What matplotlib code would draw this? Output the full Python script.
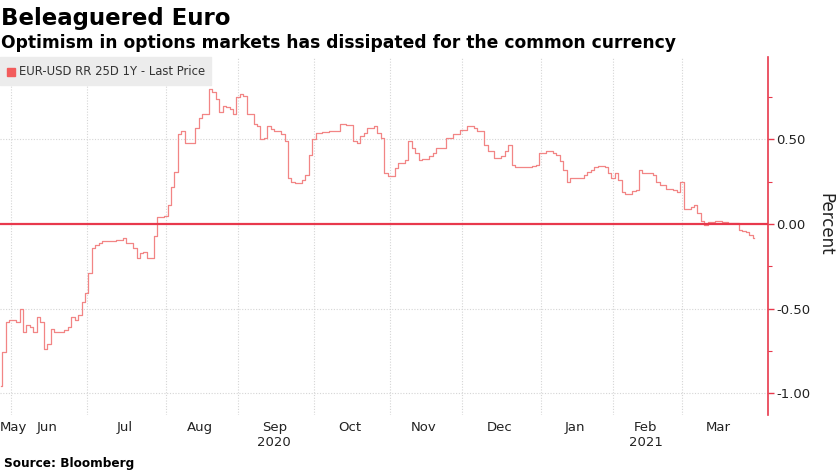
import numpy as np
import pandas as pd
import matplotlib
matplotlib.use('Agg')
import matplotlib.pyplot as plt
from matplotlib.patches import Rectangle

# EUR-USD 25 delta 1Y risk reversal, one value per trading day from 27 May 2020
start_date = '2020-05-27'
rr_values = [
    -0.96, -0.76, -0.58, -0.57, -0.57, -0.58, -0.50, -0.64, -0.60, -0.61,
    -0.64, -0.55, -0.58, -0.74, -0.71, -0.62, -0.64, -0.64, -0.64, -0.63,
    -0.61, -0.55, -0.57, -0.54, -0.46, -0.41, -0.29, -0.14, -0.125, -0.11,
    -0.10, -0.10, -0.10, -0.10, -0.095, -0.095, -0.08, -0.11, -0.11, -0.14,
    -0.20, -0.17, -0.165, -0.20, -0.20, -0.07, 0.04, 0.04, 0.05, 0.11,
    0.22, 0.31, 0.53, 0.55, 0.48, 0.48, 0.48, 0.57, 0.625, 0.65,
    0.65, 0.80, 0.78, 0.74, 0.66, 0.70, 0.69, 0.68, 0.65, 0.75,
    0.77, 0.76, 0.65, 0.65, 0.59, 0.58, 0.50, 0.51, 0.58, 0.56,
    0.55, 0.55, 0.53, 0.49, 0.27, 0.25, 0.24, 0.24, 0.26, 0.29,
    0.41, 0.50, 0.54, 0.54, 0.545, 0.545, 0.55, 0.55, 0.55, 0.59,
    0.59, 0.585, 0.585, 0.49, 0.48, 0.52, 0.54, 0.57, 0.57, 0.58,
    0.54, 0.51, 0.30, 0.285, 0.285, 0.33, 0.36, 0.36, 0.38, 0.49,
    0.45, 0.42, 0.38, 0.385, 0.385, 0.40, 0.42, 0.45, 0.45, 0.45,
    0.51, 0.51, 0.535, 0.535, 0.555, 0.555, 0.58, 0.58, 0.57, 0.55,
    0.55, 0.47, 0.43, 0.43, 0.39, 0.39, 0.40, 0.43, 0.47, 0.35,
    0.34, 0.34, 0.34, 0.34, 0.34, 0.345, 0.35, 0.42, 0.42, 0.43,
    0.43, 0.42, 0.41, 0.37, 0.32, 0.25, 0.27, 0.27, 0.27, 0.275,
    0.29, 0.31, 0.32, 0.34, 0.345, 0.345, 0.34, 0.30, 0.27, 0.30,
    0.26, 0.19, 0.18, 0.18, 0.195, 0.20, 0.32, 0.30, 0.30, 0.30,
    0.29, 0.25, 0.23, 0.23, 0.21, 0.21, 0.20, 0.19, 0.25, 0.09,
    0.09, 0.10, 0.11, 0.065, 0.02, -0.005, 0.01, 0.01, 0.015, 0.02,
    0.01, 0.01, 0.005, 0.005, 0.005, -0.035, -0.04, -0.05, -0.065, -0.085,
]
y_ticks = [0.5, 0.0, -0.5, -1.0]
y_tick_labels = ['0.50', '0.00', '-0.50', '-1.00']
y_minor = [0.75, 0.25, -0.25, -0.75]
year_marks = {'Sep': '2020', 'Feb': '2021'}

line_color = '#f28585'
axis_red = '#e8384c'
grid_color = '#d5d5d5'
text_color = '#222222'

W, H = 837, 470
dates = pd.bdate_range(start_date, periods=len(rr_values))
idx = np.arange(len(dates))

fig = plt.figure(figsize=(W / 100, H / 100), dpi=100)
ax = fig.add_axes([0, 1 - 415 / H, 768 / W, (415 - 57) / H])

ax.set_xlim(-0.2, 223)
ax.set_ylim(-1.13, 0.988)

# month grid lines at first trading day, labels at middle of month
months = pd.Series(idx, index=dates).groupby([dates.year, dates.month])
for (yr, mo), grp in months:
    first = grp.iloc[0]
    if first > 1:
        ax.axvline(first, color=grid_color, lw=0.8, ls=(0, (1, 1.5)), zorder=0)
    mid = grp.mean()
    name = pd.Timestamp(year=yr, month=mo, day=1).strftime('%b')
    if mid < 5:
        ax.text(-0.2, -0.036, name, transform=ax.get_xaxis_transform(),
                ha='left', va='center', fontsize=9.5, color=text_color)
    else:
        ax.text(mid, -0.036, name, transform=ax.get_xaxis_transform(),
                ha='center', va='center', fontsize=9.5, color=text_color)
    if name in year_marks:
        ax.text(mid, -0.076, year_marks[name], transform=ax.get_xaxis_transform(),
                ha='center', va='center', fontsize=9.5, color=text_color)

for yv in y_ticks:
    if yv != 0:
        ax.axhline(yv, color=grid_color, lw=0.8, ls=(0, (1, 1.5)), zorder=0)

ax.step(idx, rr_values, where='mid', color=line_color, lw=0.9, zorder=3)
ax.axhline(0, color=axis_red, lw=1.6, zorder=4)

for s in ['top', 'left', 'bottom']:
    ax.spines[s].set_visible(False)
ax.spines['right'].set_color(axis_red)
ax.spines['right'].set_linewidth(1.2)
ax.set_xticks([])
ax.yaxis.tick_right()
ax.set_yticks(y_ticks)
ax.set_yticklabels(y_tick_labels)
ax.set_yticks(y_minor, minor=True)
ax.tick_params(axis='y', which='major', colors=axis_red, length=4, width=1,
               labelcolor=text_color, labelsize=9.5, pad=2)
ax.tick_params(axis='y', which='minor', colors=axis_red, length=3, width=0.8)

fig.text(825 / W, 1 - 224 / H, 'Percent', rotation=270, ha='center',
         va='center', fontsize=12, color=text_color)

# titles
fig.text(1 / W, 1 - 18 / H, 'Beleaguered Euro', fontsize=16.5, weight='bold',
         ha='left', va='center', color='#000000')
fig.text(1 / W, 1 - 43 / H,
         'Optimism in options markets has dissipated for the common currency',
         fontsize=12.3, weight='bold', ha='left', va='center', color='#000000')
fig.text(4 / W, 1 - 463 / H, 'Source: Bloomberg', fontsize=8.7, weight='bold',
         ha='left', va='center', color='#000000')

# legend box
fig.patches.append(Rectangle((0, 1 - 85 / H), 211 / W, 28 / H,
                             transform=fig.transFigure, color='#ececec', zorder=5))
fig.patches.append(Rectangle((7 / W, 1 - 76 / H), 8 / W, 8 / H,
                             transform=fig.transFigure, color='#f25c5c', zorder=6))
fig.text(19 / W, 1 - 71.5 / H, 'EUR-USD RR 25D 1Y - Last Price', fontsize=8.4,
         ha='left', va='center', color='#333333', zorder=7)

fig.savefig('out.png', dpi=100)
